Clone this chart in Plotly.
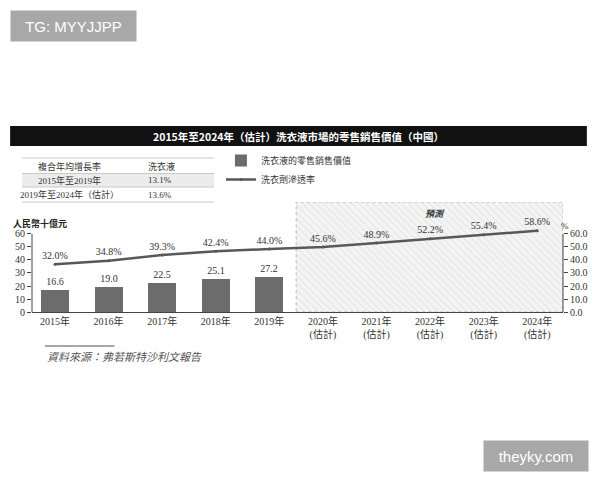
import plotly.graph_objects as go

# ---------------- data ----------------
years = ["2015年", "2016年", "2017年", "2018年", "2019年",
         "2020年<br>(估計)", "2021年<br>(估計)", "2022年<br>(估計)",
         "2023年<br>(估計)", "2024年<br>(估計)"]
retail_value = [16.6, 19.0, 22.5, 25.1, 27.2, 29.2, 33.7, 38.9, 44.8, 51.5]
penetration = [32.0, 34.8, 39.3, 42.4, 44.0, 45.6, 48.9, 52.2, 55.4, 58.6]
n_actual = 5  # first 5 years actual, rest forecast

left_ticks = [0, 10, 20, 30, 40, 50, 60]
right_ticks = [0, 10, 20, 30, 40, 50, 60]
right_ticktext = ["0.0", "10.0", "20.0", "30.0", "40.0", "50.0", "60.0"]

table_rows = [["複合年均增長率", "洗衣液"],
              ["2015年至2019年", "13.1%"],
              ["2019年至2024年（估計）", "13.6%"]]

title_text = "2015年至2024年（估計）洗衣液市場的零售銷售價值（中國）"
bar_name = "洗衣液的零售銷售價值"
line_name = "洗衣劑滲透率"
source_text = "資料來源：弗若斯特沙利文報告"

# ---------------- layout helpers ----------------
W, H = 600, 480
ML, MR, MT, MB = 32, 34, 202, 168
PW, PH = W - ML - MR, H - MT - MB


def px(x):
    return (x - ML) / PW


def py(y):
    return (H - MB - y) / PH


SERIF = "Liberation Serif, Noto Sans CJK TC, serif"
CJK = "Noto Sans CJK TC, Liberation Serif, serif"
XR = [-0.43, 9.48]
YTOP = 84.6
LINE_RANGE = [-5.8, 81.3]

idx = list(range(len(years)))
bar_colors = ["#6c6c6c" if i < n_actual else "#dcdcdc" for i in idx]

fig = go.Figure()

# forecast hatched region (background)
fig.add_trace(go.Scatter(
    x=[n_actual - 0.5, XR[1], XR[1], n_actual - 0.5, n_actual - 0.5],
    y=[0, 0, YTOP, YTOP, 0],
    mode="lines", fill="toself",
    line=dict(color="#b5b5b5", width=1, dash="dot"),
    fillcolor="#f4f4f4",
    fillpattern=dict(shape="\\", fgcolor="#d2d2d2", bgcolor="#f4f4f4",
                     size=5, solidity=0.2),
    hoverinfo="skip", showlegend=False,
))

fig.add_trace(go.Bar(
    x=idx, y=retail_value, name=bar_name,
    marker=dict(color=bar_colors, line=dict(width=0)),
    width=0.52,
    text=[f"{v:.1f}" for v in retail_value], textposition="outside",
    textfont=dict(family=SERIF, size=10, color="#333"),
    cliponaxis=False,
))

fig.add_trace(go.Scatter(
    x=idx, y=penetration, name=line_name, yaxis="y3",
    mode="lines+markers+text",
    line=dict(color="#585858", width=2.5),
    marker=dict(size=3, color="#585858"),
    text=[f"{v:.1f}%" for v in penetration], textposition="top center",
    textfont=dict(family=SERIF, size=10, color="#333"),
    cliponaxis=False,
))

shapes = []
annotations = []


def note(text, x, y, xa="center", ya="middle", **font):
    f = dict(family=SERIF, size=9, color="#333")
    f.update(font)
    annotations.append(dict(text=text, xref="paper", yref="paper", x=px(x), y=py(y),
                            xanchor=xa, yanchor=ya, showarrow=False, font=f))


# title bar
shapes.append(dict(type="rect", xref="paper", yref="paper",
                   x0=px(10), x1=px(590), y0=py(146), y1=py(126),
                   fillcolor="#111", line=dict(width=0), layer="above"))
note("<b>" + title_text + "</b>", 300, 136, family=CJK, size=10.5, color="white")

# table
shapes.append(dict(type="rect", xref="paper", yref="paper",
                   x0=px(22), x1=px(215), y0=py(187), y1=py(173.5),
                   fillcolor="#ececec", line=dict(width=0)))
for yl in [158, 173.5, 187, 202]:
    shapes.append(dict(type="line", xref="paper", yref="paper",
                       x0=px(22), x1=px(215), y0=py(yl), y1=py(yl),
                       line=dict(color="#c8c8c8", width=1)))
row_y = [166, 180, 194.5]
for r, row in enumerate(table_rows):
    note(row[0], 70, row_y[r])
    note(row[1], 147, row_y[r], xa="left")

# axis lines (only up to 60)
shapes.append(dict(type="line", xref="paper", yref="y", x0=0, x1=0, y0=0, y1=60,
                   line=dict(color="#444", width=1)))
shapes.append(dict(type="line", xref="paper", yref="y", x0=1, x1=1, y0=0, y1=60,
                   line=dict(color="#444", width=1)))

# axis titles and notes
note("<b>人民幣十億元</b>", 11, 223, xa="left", family=CJK, color="#222")
note("%", 562, 226, xa="left")
note("<b><i>預測</i></b>", 437, 213, family=CJK)

# source
shapes.append(dict(type="line", xref="paper", yref="paper",
                   x0=px(45), x1=px(115), y0=py(346), y1=py(346),
                   line=dict(color="#8a8a8a", width=1.5)))
note("<i>" + source_text + "</i>", 45, 356, xa="left", family=CJK, size=11, color="#555")

# watermark boxes
for txt, x0, y0, w in [("TG: MYYJJPP", 10, 10, 125), ("theyky.com", 486, 440, 104)]:
    annotations.append(dict(text=txt, xref="paper", yref="paper",
                            x=px(x0), xanchor="left", y=py(y0), yanchor="top",
                            width=w, height=30, borderpad=0, bgcolor="#a8a8a8",
                            showarrow=False,
                            font=dict(family="Liberation Sans, Arial, sans-serif",
                                      size=15, color="white")))

fig.update_layout(
    width=W, height=H,
    margin=dict(l=ML, r=MR, t=MT, b=MB),
    paper_bgcolor="white", plot_bgcolor="white",
    font=dict(family=SERIF, size=9, color="#333"),
    showlegend=True,
    legend=dict(x=px(222), y=py(146), xanchor="left", yanchor="top",
                bgcolor="rgba(0,0,0,0)", font=dict(family=CJK, size=9, color="#333"),
                itemwidth=30, tracegroupgap=0, traceorder="normal"),
    xaxis=dict(range=XR, tickvals=idx, ticktext=years, showgrid=False,
               zeroline=False, showline=True, linecolor="#444", linewidth=1,
               ticks="", tickfont=dict(family=SERIF, size=10, color="#333")),
    yaxis=dict(range=[0, YTOP], tickvals=left_ticks, showgrid=False, zeroline=False,
               showline=False, ticks="outside", ticklen=4, tickcolor="#444",
               tickfont=dict(family=SERIF, size=10, color="#333")),
    yaxis2=dict(range=[0, YTOP], overlaying="y", side="right", tickvals=right_ticks,
                ticktext=right_ticktext, showgrid=False, zeroline=False,
                showline=False, ticks="outside", ticklen=4, tickcolor="#444",
                tickfont=dict(family=SERIF, size=10, color="#333")),
    yaxis3=dict(range=LINE_RANGE, overlaying="y", visible=False),
    shapes=shapes, annotations=annotations,
    bargap=0,
)

# dummy trace so the right axis renders
fig.add_trace(go.Scatter(x=[None], y=[None], yaxis="y2", showlegend=False, hoverinfo="skip"))

fig.write_html("out.html")
